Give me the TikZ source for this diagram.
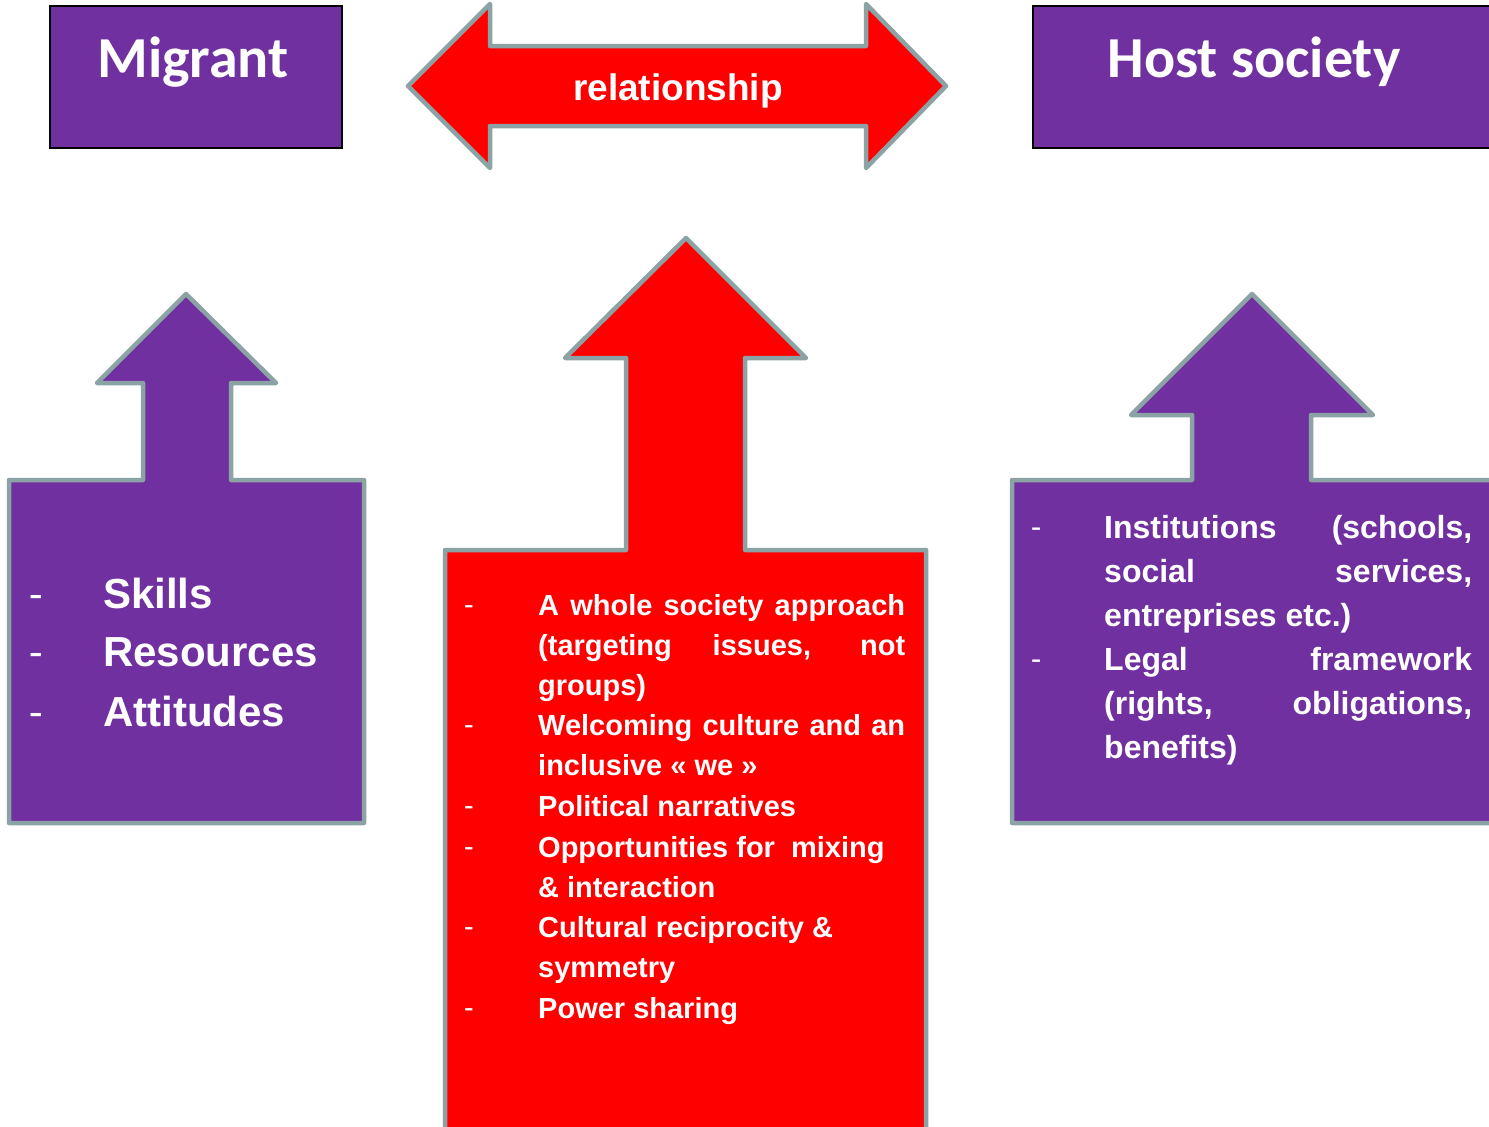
\documentclass[tikz,border=0pt]{standalone}
\usepackage{fontspec}
\setmainfont{Liberation Sans}
\newfontfamily\calib{Carlito}
\definecolor{purp}{RGB}{112,48,160}
\definecolor{redf}{RGB}{255,0,0}
\definecolor{edge}{RGB}{140,163,165}
\tikzset{
  shapeline/.style={draw=edge, line width=4.5pt, line join=round},
  titlebox/.style={draw=black, line width=2pt, fill=purp},
  title/.style={text=white, inner sep=0pt, anchor=base, font=\calib\bfseries\fontsize{58}{60}\selectfont},
  bigitem/.style={text=white, inner sep=0pt, anchor=base west, font=\bfseries\fontsize{42}{50}\selectfont},
  bigdash/.style={text=white, inner sep=0pt, anchor=base west, font=\calib\fontsize{44}{46}\selectfont},
  reditem/.style={text=white, inner sep=0pt, anchor=base west, font=\bfseries\fontsize{29}{33}\selectfont},
  reddash/.style={text=white, inner sep=0pt, anchor=base west, font=\calib\fontsize{31}{33}\selectfont},
  hostitem/.style={text=white, inner sep=0pt, anchor=base west, font=\bfseries\fontsize{32}{36}\selectfont},
  hostdash/.style={text=white, inner sep=0pt, anchor=base west, font=\calib\fontsize{33}{35}\selectfont},
}
\newcommand{\jrow}[2]{\makebox[#1][s]{#2}}
\begin{document}
\begin{tikzpicture}[x=1pt,y=-1pt]
\useasboundingbox (0,0) rectangle (1489,1127);
\clip (0,0) rectangle (1489,1127);
\fill[white] (0,0) rectangle (1489,1127);
% top boxes
\draw[titlebox] (50,6) rectangle (342,148);
\draw[titlebox] (1033,6) rectangle (1510,148);
\node[title] (migrant) at (193,77) {Migrant};
\node[title] (host) at (1254,77) {Host society};
% double arrow
\draw[shapeline, fill=redf] (408,86) -- (490,4) -- (490,46) -- (866,46) -- (866,4) -- (946,86) -- (866,168) -- (866,126) -- (490,126) -- (490,168) -- cycle;
\node[text=white, inner sep=0pt, anchor=base, font=\bfseries\fontsize{37}{40}\selectfont] (rel) at (678,100) {relationship};
% left arrow box
\draw[shapeline, fill=purp] (186,294) -- (276,383) -- (231,383) -- (231,480) -- (364,480) -- (364,823) -- (9,823) -- (9,480) -- (143,480) -- (143,383) -- (97,383) -- cycle;
\node[bigdash] (ld1) at (29,609) {-};
\node[bigdash] (ld2) at (29,667) {-};
\node[bigdash] (ld3) at (29,727) {-};
\node[bigitem] (l1) at (103,608) {Skills};
\node[bigitem] (l2) at (103,666) {Resources};
\node[bigitem] (l3) at (103,726) {Attitudes};
% centre arrow box
\draw[shapeline, fill=redf] (686,238) -- (806,358) -- (745,358) -- (745,550) -- (926,550) -- (926,1150) -- (445,1150) -- (445,550) -- (626,550) -- (626,358) -- (565,358) -- cycle;
\node[reddash] (cd1) at (464,615) {-};
\node[reddash] (cd2) at (464,735) {-};
\node[reddash] (cd3) at (464,816) {-};
\node[reddash] (cd4) at (464,857) {-};
\node[reddash] (cd5) at (464,937) {-};
\node[reddash] (cd6) at (464,1018) {-};
\node[reditem] (c1) at (538,615) {\jrow{367pt}{A whole society approach}};
\node[reditem] (c2) at (538,655) {\jrow{367pt}{(targeting issues, not}};
\node[reditem] (c3) at (538,695) {groups)};
\node[reditem] (c4) at (538,735) {\jrow{367pt}{Welcoming culture and an}};
\node[reditem] (c5) at (538,775) {inclusive « we »};
\node[reditem] (c6) at (538,816) {Political narratives};
\node[reditem] (c7) at (538,857) {Opportunities for\ \ mixing};
\node[reditem] (c8) at (538,897) {\& interaction};
\node[reditem] (c9) at (538,937) {Cultural reciprocity \&};
\node[reditem] (c10) at (538,977) {symmetry};
\node[reditem] (c11) at (538,1018) {Power sharing};
% right arrow box
\draw[shapeline, fill=purp] (1252,294) -- (1373,415) -- (1311,415) -- (1311,480) -- (1510,480) -- (1510,823) -- (1012,823) -- (1012,480) -- (1192,480) -- (1192,415) -- (1131,415) -- cycle;
\node[hostdash] (rd1) at (1031,538) {-};
\node[hostdash] (rd2) at (1031,670) {-};
\node[hostitem] (r1) at (1104,538) {\jrow{368pt}{Institutions (schools,}};
\node[hostitem] (r2) at (1104,582) {\jrow{368pt}{social services,}};
\node[hostitem] (r3) at (1104,626) {entreprises etc.)};
\node[hostitem] (r4) at (1104,670) {\jrow{368pt}{Legal framework}};
\node[hostitem] (r5) at (1104,714) {\jrow{368pt}{(rights, obligations,}};
\node[hostitem] (r6) at (1104,758) {benefits)};
\end{tikzpicture}
\end{document}
